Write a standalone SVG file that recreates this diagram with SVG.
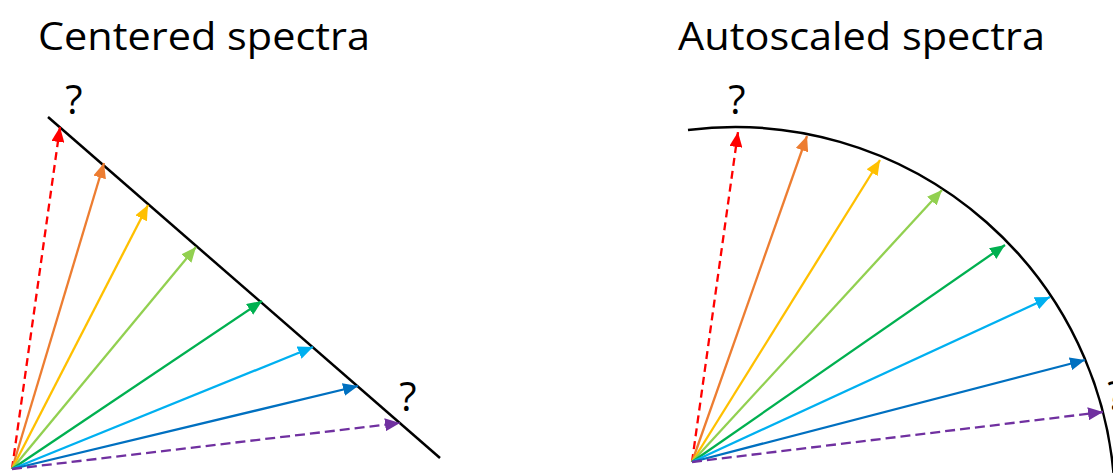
<svg xmlns="http://www.w3.org/2000/svg" width="1113" height="473" viewBox="0 0 1113 473">
<style>
.t{font-family:"Open Sans","Liberation Sans",sans-serif;fill:#000}
.title{font-size:38px}
.q{font-size:40px;text-anchor:middle}
.a{stroke-width:2.3;fill:none}
.dash1{stroke-dasharray:8 5}
.dash2{stroke-dasharray:10 5}
.guide{stroke:#000;stroke-width:2.5;fill:none}
</style>
<defs>
<marker id="mr" markerUnits="userSpaceOnUse" viewBox="0 0 15 13" refX="15" refY="6.5" markerWidth="15" markerHeight="13" orient="auto"><path d="M0,0 L15,6.5 L0,13 z" fill="#FF0000"/></marker>
<marker id="mo" markerUnits="userSpaceOnUse" viewBox="0 0 15 13" refX="15" refY="6.5" markerWidth="15" markerHeight="13" orient="auto"><path d="M0,0 L15,6.5 L0,13 z" fill="#ED7D31"/></marker>
<marker id="my" markerUnits="userSpaceOnUse" viewBox="0 0 15 13" refX="15" refY="6.5" markerWidth="15" markerHeight="13" orient="auto"><path d="M0,0 L15,6.5 L0,13 z" fill="#FFC000"/></marker>
<marker id="mlg" markerUnits="userSpaceOnUse" viewBox="0 0 15 13" refX="15" refY="6.5" markerWidth="15" markerHeight="13" orient="auto"><path d="M0,0 L15,6.5 L0,13 z" fill="#92D050"/></marker>
<marker id="mg" markerUnits="userSpaceOnUse" viewBox="0 0 15 13" refX="15" refY="6.5" markerWidth="15" markerHeight="13" orient="auto"><path d="M0,0 L15,6.5 L0,13 z" fill="#00B050"/></marker>
<marker id="mc" markerUnits="userSpaceOnUse" viewBox="0 0 15 13" refX="15" refY="6.5" markerWidth="15" markerHeight="13" orient="auto"><path d="M0,0 L15,6.5 L0,13 z" fill="#00B0F0"/></marker>
<marker id="mb" markerUnits="userSpaceOnUse" viewBox="0 0 15 13" refX="15" refY="6.5" markerWidth="15" markerHeight="13" orient="auto"><path d="M0,0 L15,6.5 L0,13 z" fill="#0070C0"/></marker>
<marker id="mp" markerUnits="userSpaceOnUse" viewBox="0 0 15 13" refX="15" refY="6.5" markerWidth="15" markerHeight="13" orient="auto"><path d="M0,0 L15,6.5 L0,13 z" fill="#7030A0"/></marker>
</defs>
<rect width="1113" height="473" fill="#fff"/>

<g id="title-centered"><text class="t title" x="38" y="50" textLength="332" lengthAdjust="spacingAndGlyphs">Centered spectra</text></g>
<g id="title-autoscaled"><text class="t title" x="678" y="50" textLength="367" lengthAdjust="spacingAndGlyphs">Autoscaled spectra</text></g>

<g id="centered-panel">
  <g id="centered-line"><line class="guide" x1="48" y1="117" x2="440" y2="458"/></g>
  <g id="centered-q1"><text class="t q" x="74" y="114">?</text></g>
  <g id="centered-q2"><text class="t q" x="408" y="411">?</text></g>
</g>

<g id="autoscaled-panel">
  <g id="autoscaled-arc"><path class="guide" d="M688,130 A380,380 0 0 1 1115,507"/></g>
  <g id="autoscaled-q1"><text class="t q" x="737" y="114">?</text></g>
  <g id="autoscaled-q2"><text class="t q" x="1116" y="410">?</text></g>
</g>

<g id="connectors">
  <g id="centered-arrows">
    <line class="a dash1" stroke="#FF0000" x1="12" y1="469" x2="60" y2="127" marker-end="url(#mr)"/>
    <line class="a" stroke="#ED7D31" x1="12" y1="469" x2="104" y2="163" marker-end="url(#mo)"/>
    <line class="a" stroke="#FFC000" x1="12" y1="469" x2="148" y2="205" marker-end="url(#my)"/>
    <line class="a" stroke="#92D050" x1="12" y1="469" x2="196" y2="247" marker-end="url(#mlg)"/>
    <line class="a" stroke="#00B050" x1="12" y1="469" x2="262" y2="301" marker-end="url(#mg)"/>
    <line class="a" stroke="#00B0F0" x1="12" y1="469" x2="313" y2="347" marker-end="url(#mc)"/>
    <line class="a" stroke="#0070C0" x1="12" y1="469" x2="358" y2="386" marker-end="url(#mb)"/>
    <line class="a dash2" stroke="#7030A0" x1="12" y1="469" x2="400" y2="423" marker-end="url(#mp)"/>
  </g>
  <g id="autoscaled-arrows">
    <line class="a dash1" stroke="#FF0000" x1="692" y1="462" x2="738" y2="132" marker-end="url(#mr)"/>
    <line class="a" stroke="#ED7D31" x1="692" y1="462" x2="807" y2="136" marker-end="url(#mo)"/>
    <line class="a" stroke="#FFC000" x1="692" y1="462" x2="880" y2="160" marker-end="url(#my)"/>
    <line class="a" stroke="#92D050" x1="692" y1="462" x2="942" y2="190" marker-end="url(#mlg)"/>
    <line class="a" stroke="#00B050" x1="692" y1="462" x2="1005" y2="245" marker-end="url(#mg)"/>
    <line class="a" stroke="#00B0F0" x1="692" y1="462" x2="1050" y2="297" marker-end="url(#mc)"/>
    <line class="a" stroke="#0070C0" x1="692" y1="462" x2="1085" y2="360" marker-end="url(#mb)"/>
    <line class="a dash2" stroke="#7030A0" x1="692" y1="462" x2="1103" y2="412" marker-end="url(#mp)"/>
  </g>
</g>
</svg>
